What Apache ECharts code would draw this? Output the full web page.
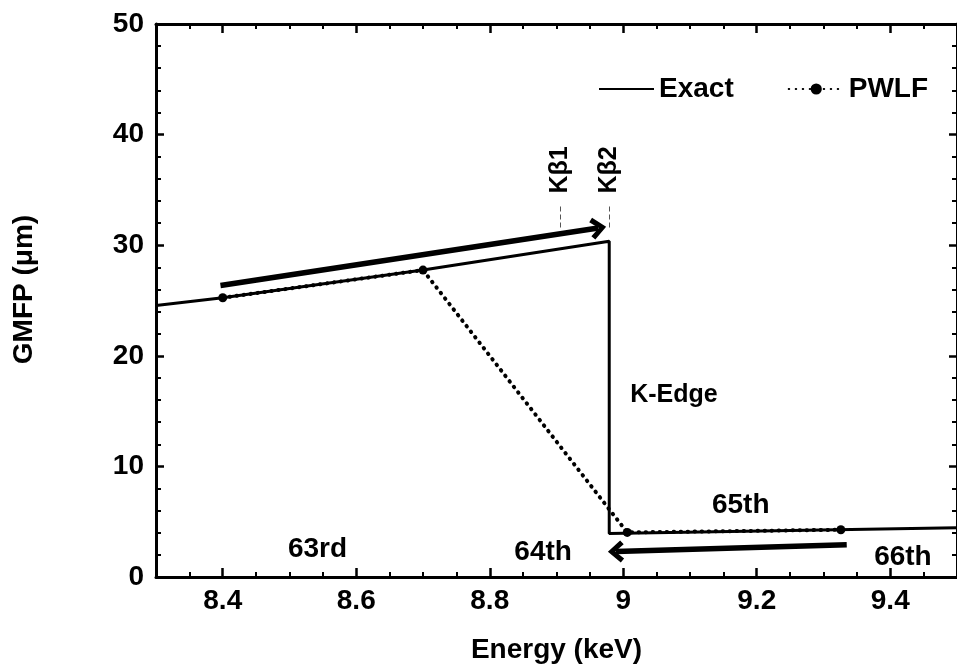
<!DOCTYPE html>
<html>
<head>
<meta charset="utf-8">
<script src="https://cdn.jsdelivr.net/npm/echarts@6/dist/echarts.min.js"></script>
<style>
  html, body { margin: 0; padding: 0; background: #fff; }
  #chart { width: 957px; height: 669px; }
</style>
</head>
<body>
<div id="chart"></div>
<script>
// Energy axis ticks (keV)
const energyMajor = [8.4, 8.6, 8.8, 9, 9.2, 9.4];
const energyMinor = [8.35, 8.45, 8.5, 8.55, 8.65, 8.7, 8.75, 8.85, 8.9, 8.95,
                     9.05, 9.1, 9.15, 9.25, 9.3, 9.35, 9.45];

// Exact GMFP curve (µm) across the K-edge
const exactEnergy = [8.3, 8.4, 8.7, 8.979, 8.979, 9.5];
const exactGmfp   = [24.55, 25.25, 27.75, 30.35, 3.94, 4.45];

// Piecewise linear fit nodes
const pwlfEnergy = [8.4, 8.7, 9.006, 9.326];
const pwlfGmfp   = [25.25, 27.75, 4.03, 4.27];

// Emission lines near the edge
const kbNames  = ['Kβ1', 'Kβ2'];
const kbEnergy = [8.905, 8.979];

// Group order labels
const orderNames  = ['63rd', '64th', '65th', '66th', 'K-Edge'];
const orderEnergy = [8.542, 8.88, 9.176, 9.419, 9.076];
const orderGmfp   = [2.53, 2.26, 6.5, 1.8, 16.43];

// Direction arrows: [startE, startG, endE, endG]
const arrowUp   = [8.3966, 26.35, 8.9625, 31.55];
const arrowDown = [9.3348, 2.92, 8.989, 2.30];

const FONT = '"Liberation Sans", Arial, Helvetica, sans-serif';
const chevron = 'path://M10,0 L20,11 L16.5,14 L10,6.5 L3.5,14 L0,11 Z';

const zip = (xs, ys) => xs.map((x, i) => [x, ys[i]]);

const baseX = {
  type: 'value', min: 8.3, max: 9.5,
  splitLine: { show: false },
  axisLine: { lineStyle: { color: '#000', width: 3 } }
};
const baseY = {
  type: 'value', min: 0, max: 50, interval: 10,
  splitLine: { show: false },
  axisLine: { lineStyle: { color: '#000', width: 3 } },
  axisTick: { inside: true, length: 8, lineStyle: { color: '#000', width: 2.5 } },
  minorTick: { show: true, splitNumber: 5, length: 5, lineStyle: { color: '#000', width: 2 } }
};

const arrowLine = a => [
  { coord: [a[0], a[1]], symbol: 'none' },
  { coord: [a[2], a[3]], symbol: chevron, symbolSize: [22, 16] }
];
const kbLine = e => [
  { coord: [e, 31.6], symbol: 'none' },
  { coord: [e, 33.6], symbol: 'none' }
];

const noteLabel = (size, extra) => Object.assign({
  show: true, position: 'inside', formatter: '{b}',
  fontFamily: FONT, fontSize: size, fontWeight: 'bold', color: '#000',
  textBorderWidth: 0, opacity: 1
}, extra || {});

const option = {
  animation: false,
  backgroundColor: '#fff',
  textStyle: { fontFamily: FONT },
  grid: { left: 156, top: 24, width: 804, height: 554 },
  legend: {
    data: [
      { name: 'Exact', itemStyle: { opacity: 0 } },
      { name: 'PWLF' }
    ],
    left: 593, top: 70,
    itemWidth: 55, itemHeight: 14, itemGap: 54,
    textStyle: { fontFamily: FONT, fontSize: 28, fontWeight: 'bold', color: '#000' }
  },
  xAxis: [
    Object.assign({}, baseX, {
      position: 'bottom',
      name: 'Energy (keV)', nameLocation: 'middle', nameGap: 59,
      nameTextStyle: { fontFamily: FONT, fontSize: 28, fontWeight: 'bold', color: '#000' },
      axisTick: { inside: true, length: 9, customValues: energyMajor,
                  lineStyle: { color: '#000', width: 2.5 } },
      axisLabel: { customValues: energyMajor, margin: 10, formatter: v => String(v),
                   fontFamily: FONT, fontSize: 28, fontWeight: 'bold', color: '#000' }
    }),
    Object.assign({}, baseX, {
      position: 'bottom',
      axisLine: { show: false },
      axisTick: { inside: true, length: 5, customValues: energyMinor,
                  lineStyle: { color: '#000', width: 2 } },
      axisLabel: { show: false, customValues: energyMinor }
    }),
    Object.assign({}, baseX, {
      position: 'top',
      axisTick: { inside: true, length: 9, customValues: energyMajor,
                  lineStyle: { color: '#000', width: 2.5 } },
      axisLabel: { show: false, customValues: energyMajor }
    }),
    Object.assign({}, baseX, {
      position: 'top',
      axisLine: { show: false },
      axisTick: { inside: true, length: 5, customValues: energyMinor,
                  lineStyle: { color: '#000', width: 2 } },
      axisLabel: { show: false, customValues: energyMinor }
    })
  ],
  yAxis: [
    Object.assign({}, baseY, {
      position: 'left',
      name: 'GMFP (μm)', nameLocation: 'middle', nameGap: 118, nameRotate: 90,
      nameTextStyle: { fontFamily: FONT, fontSize: 28, fontWeight: 'bold', color: '#000',
                       padding: [0, 0, 0, 22] },
      axisLabel: { margin: 12, fontFamily: FONT, fontSize: 28, fontWeight: 'bold', color: '#000' }
    }),
    Object.assign({}, baseY, {
      position: 'right',
      axisLabel: { show: false }
    })
  ],
  series: [
    {
      name: 'Exact', type: 'line', data: zip(exactEnergy, exactGmfp),
      symbol: 'none', z: 3,
      lineStyle: { color: '#000', width: 3 },
      itemStyle: { color: '#000' },
      markLine: {
        silent: true, animation: false,
        label: { show: false },
        lineStyle: { color: '#000', width: 5.5, type: 'solid' },
        data: [arrowLine(arrowUp), arrowLine(arrowDown)]
      }
    },
    {
      name: 'PWLF', type: 'line', data: zip(pwlfEnergy, pwlfGmfp),
      symbol: 'circle', symbolSize: 9, z: 4,
      lineStyle: { color: '#000', width: 4, type: [0.5, 6.5], cap: 'round' },
      itemStyle: { color: '#000' }
    },
    {
      name: 'Kβ', type: 'scatter',
      data: zip(kbEnergy, [36.8, 36.8]).map((p, i) => ({ value: p, name: kbNames[i] })),
      symbolSize: 0, itemStyle: { color: '#000' }, silent: true, z: 5,
      label: noteLabel(25, { rotate: 90 }),
      markLine: {
        silent: true, animation: false, label: { show: false },
        lineStyle: { color: '#555', width: 1, type: [5, 3] },
        data: kbEnergy.map(kbLine)
      }
    },
    {
      name: 'orders', type: 'scatter',
      data: orderNames.map((n, i) => ({ value: [orderEnergy[i], orderGmfp[i]], name: n })),
      symbolSize: 0, itemStyle: { color: '#000' }, silent: true, z: 5,
      label: noteLabel(28)
    }
  ]
};
// K-Edge label is smaller than the order labels
option.series[3].data[4].label = { fontSize: 25 };

const chart = echarts.init(document.getElementById('chart'), null, { renderer: 'canvas' });
chart.setOption(option);
</script>
</body>
</html>
